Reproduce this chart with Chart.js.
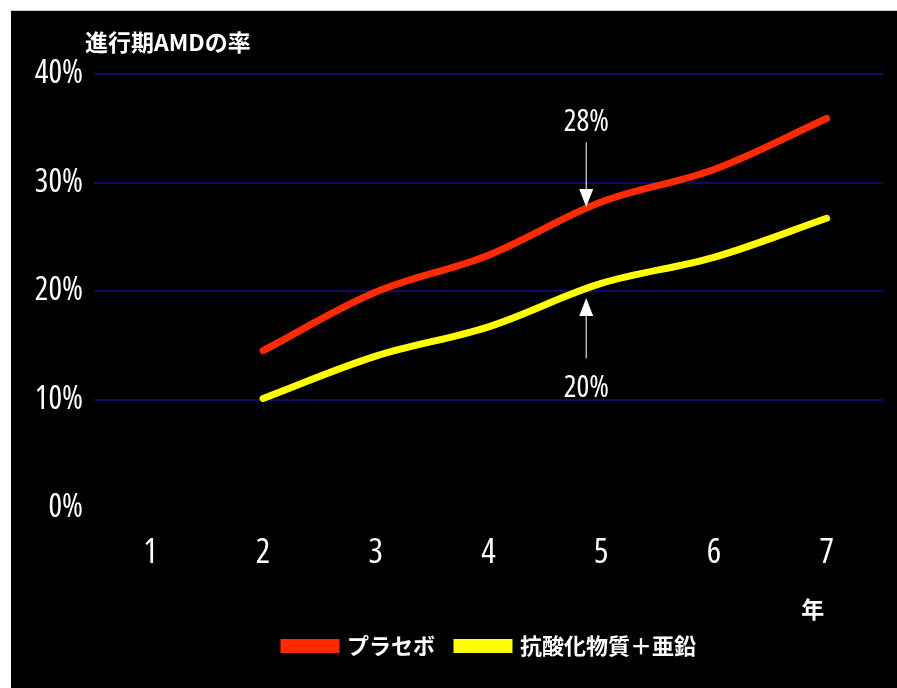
<!DOCTYPE html>
<html>
<head>
<meta charset="utf-8">
<script src="https://cdn.jsdelivr.net/npm/chart.js@4.4.1/dist/chart.umd.min.js"></script>
<style>
    html, body { margin: 0; padding: 0; background: #ffffff; }
    #wrap { position: absolute; left: 11px; top: 10px; width: 886px; height: 678px; background: #000; border-top: 1px solid #c8c8c8; }
    canvas { display: block; }
</style>
</head>
<body>
<div id="wrap"><canvas id="amdChart" width="886" height="677"></canvas></div>
<script>
// 進行期AMDの率 (placebo vs antioxidant + zinc)

var years = ['1', '2', '3', '4', '5', '6', '7'];
var placebo = [null, 14.5, 19.9, 23.3, 28.2, 31.2, 35.9];
var antioxZinc = [null, 10.1, 14.0, 16.7, 20.7, 23.1, 26.7];
var yTicks = [0, 10, 20, 30, 40];
var seriesNames = ['プラセボ', '抗酸化物質＋亜鉛'];

var jpFont = '"Noto Sans CJK JP", "Noto Sans", sans-serif';
var numFont = '"Open Sans", "Noto Sans", "DejaVu Sans", sans-serif';
var narrow = 'extra-condensed';  // goes into the font shorthand

// legend sits a bit right of centre in the original
var legendShift = {
    id: 'legendShift',
    afterLayout: function (chart) {
        chart.legend.left += 43;
        chart.legend.right += 43;
    }
};

// title, unit and the two arrows
var extrasPlugin = {
    id: 'extras',
    afterDraw: function (chart) {
        var ctx = chart.ctx;
        var x = chart.scales.x;
        var y = chart.scales.y;
        ctx.save();
        ctx.fillStyle = '#ffffff';
        ctx.strokeStyle = '#e0e0e0';

        // y axis title
        ctx.font = 'bold 23px ' + jpFont;
        ctx.textAlign = 'left';
        ctx.textBaseline = 'middle';
        ctx.fillText('進行期AMDの率', 74, 31);

        // x unit
        ctx.textAlign = 'center';
        ctx.fillText('年', x.getPixelForValue(6) - 14, 598);

        var ax = x.getPixelForValue(4) - 15;
        ctx.font = narrow + ' 30px ' + numFont;
        ctx.fillText('28%', ax, y.getPixelForValue(35.5));
        ctx.fillText('20%', ax, y.getPixelForValue(11.0));

        // arrow down to placebo
        ctx.lineWidth = 1.2;
        var top1 = y.getPixelForValue(33.7), tip1 = y.getPixelForValue(27.75);
        ctx.beginPath();
        ctx.moveTo(ax, top1);
        ctx.lineTo(ax, tip1 - 16);
        ctx.stroke();
        ctx.beginPath();
        ctx.moveTo(ax - 7, tip1 - 18);
        ctx.lineTo(ax + 7, tip1 - 18);
        ctx.lineTo(ax, tip1);
        ctx.closePath();
        ctx.fill();

        // arrow up to antioxidant + zinc
        var bot2 = y.getPixelForValue(13.8), tip2 = y.getPixelForValue(19.35);
        ctx.beginPath();
        ctx.moveTo(ax, bot2);
        ctx.lineTo(ax, tip2 + 16);
        ctx.stroke();
        ctx.beginPath();
        ctx.moveTo(ax - 7, tip2 + 18);
        ctx.lineTo(ax + 7, tip2 + 18);
        ctx.lineTo(ax, tip2);
        ctx.closePath();
        ctx.fill();
        ctx.restore();
    }
};

function initChart() {
    var ctx = document.getElementById('amdChart');

    new Chart(ctx.getContext('2d'), {
        type: 'line',
        data: {
            labels: years,
            datasets: [{
                label: seriesNames[0],
                data: placebo,
                borderColor: '#ff2a00',
                backgroundColor: '#ff2a00',
                borderWidth: 7,
                borderCapStyle: 'round',
                pointRadius: 0,
                tension: 0.35
            }, {
                label: seriesNames[1],
                data: antioxZinc,
                borderColor: '#ffff00',
                backgroundColor: '#ffff00',
                borderWidth: 7,
                borderCapStyle: 'round',
                pointRadius: 0,
                tension: 0.35
            }]
        },
        options: {
            responsive: false,
            animation: false,
            devicePixelRatio: 1,
            layout: {
                padding: { top: 63, right: 14, bottom: 21, left: 0 }
            },
            plugins: {
                tooltip: { enabled: false },
                legend: {
                    position: 'bottom',
                    labels: {
                        color: '#ffffff',
                        boxWidth: 52,
                        boxHeight: 7,
                        padding: 22,
                        font: { family: jpFont, size: 22, weight: 'bold' }
                    }
                }
            },
            scales: {
                x: {
                    type: 'category',
                    offset: true,
                    grid: { display: false },
                    border: { display: false },
                    ticks: {
                        color: '#ffffff',
                        padding: 17,
                        font: { family: numFont, size: 34, weight: narrow }
                    },
                    afterFit: function (scale) { scale.height = 105; }
                },
                y: {
                    min: 0,
                    max: 40,
                    afterBuildTicks: function (scale) {
                        scale.ticks = yTicks.map(function (v) { return { value: v }; });
                    },
                    grid: {
                        color: function (c) { return c.tick && c.tick.value === 0 ? 'rgba(0,0,0,0)' : '#0b0b6a'; },
                        lineWidth: 2,
                        drawTicks: false
                    },
                    border: { display: false },
                    ticks: {
                        color: '#ffffff',
                        padding: 11,
                        font: { family: numFont, size: 32, weight: narrow },
                        callback: function (v) { return v + '%'; }
                    },
                    afterFit: function (scale) { scale.width = 83; }
                }
            }
        },
        plugins: [legendShift, extrasPlugin]
    });
}

window.onload = initChart;
</script>
</body>
</html>
